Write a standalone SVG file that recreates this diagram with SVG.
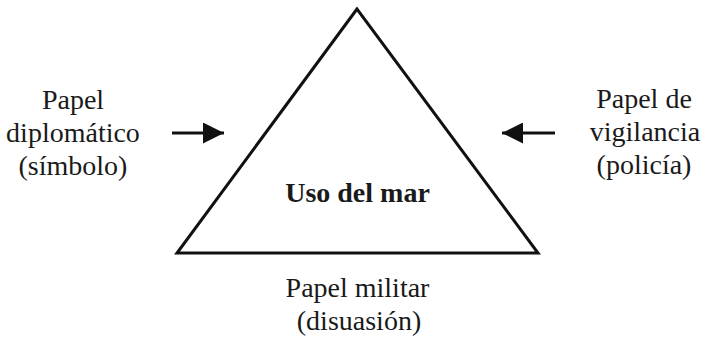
<svg xmlns="http://www.w3.org/2000/svg" width="704" height="338" viewBox="0 0 704 338">
<style>
text{font-family:"Liberation Serif","Times New Roman",serif;font-size:28px;fill:#1a1a1a;text-anchor:middle}
.b{font-weight:bold}
.ln{stroke:#111;stroke-width:3;fill:none}
</style>
<defs>
<marker id="ah" viewBox="0 0 10 10" refX="10" refY="5" markerWidth="7" markerHeight="7" markerUnits="strokeWidth" orient="auto">
<path d="M0,0 L10,5 L0,10 Z" fill="#111"/>
</marker>
</defs>
<rect width="704" height="338" fill="#fff"/>
<g id="triangle">
<polygon class="ln" points="357,9 177,253 538,253" stroke-linejoin="miter"/>
<text class="b" x="357.5" y="202">Uso del mar</text>
</g>
<g id="left-label">
<text x="73" y="109">Papel</text>
<text x="73" y="142">diplomático</text>
<text x="73" y="175">(símbolo)</text>
</g>
<g id="right-label">
<text x="644" y="108">Papel de</text>
<text x="645" y="141">vigilancia</text>
<text x="644" y="174">(policía)</text>
</g>
<g id="bottom-label">
<text x="357.5" y="297">Papel militar</text>
<text x="359" y="330">(disuasión)</text>
</g>
<g id="connectors">
<line class="ln" x1="172" y1="133" x2="224" y2="133" marker-end="url(#ah)"/>
<line class="ln" x1="555" y1="133" x2="502" y2="133" marker-end="url(#ah)"/>
</g>
</svg>
